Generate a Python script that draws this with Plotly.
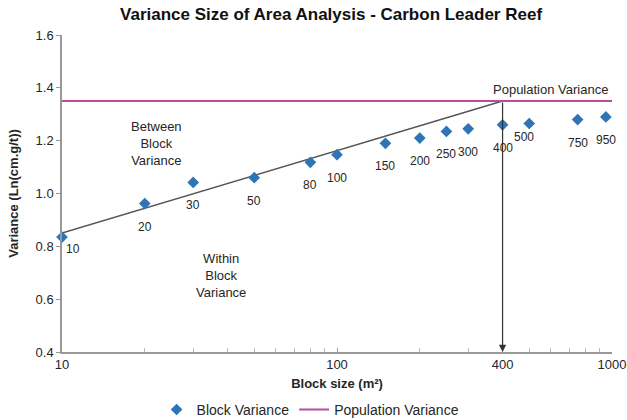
import numpy as np
import plotly.graph_objects as go

# block sizes (m2) and block variance
block_size = [10, 20, 30, 50, 80, 100, 150, 200, 250, 300, 400, 500, 750, 950]
block_variance = [0.835, 0.962, 1.042, 1.06, 1.118, 1.147, 1.19, 1.21, 1.235, 1.245,
                  1.26, 1.265, 1.28, 1.29]
point_labels = [str(v) for v in block_size]

population_variance = 1.35
trend_x = [10, 400]
trend_y = [0.85, 1.35]

x_tickvals = [10, 100, 400, 1000]
y_tickvals = [0.4, 0.6, 0.8, 1.0, 1.2, 1.4, 1.6]

BLUE = "#2e75b6"
PINK = "#b84d9e"
TEXT = "#262626"
FONT = "Liberation Sans, Arial, sans-serif"

fig = go.Figure()

fig.add_trace(
    go.Scatter(
        x=trend_x,
        y=trend_y,
        mode="lines",
        line=dict(color="#555555", width=1.5),
        showlegend=False,
        hoverinfo="skip",
    )
)

fig.add_trace(
    go.Scatter(
        x=block_size,
        y=block_variance,
        name="Block Variance",
        mode="markers",
        marker=dict(symbol="diamond", size=9, color=BLUE),
        cliponaxis=False,
    )
)

fig.add_trace(
    go.Scatter(
        x=[10, 1000],
        y=[population_variance, population_variance],
        name="Population Variance",
        mode="lines",
        line=dict(color=PINK, width=2),
    )
)

# data labels under each point
xshift = {10: 11, 500: -5}
yshift = {10: -12, 500: -13}
annotations = []
for xv, yv, lab in zip(block_size, block_variance, point_labels):
    annotations.append(
        dict(
            x=np.log10(xv),
            y=yv,
            text=lab,
            showarrow=False,
            xshift=xshift.get(xv, 0),
            yshift=yshift.get(xv, -23),
            font=dict(size=12, color=TEXT, family=FONT),
        )
    )

# arrow from population line down to the axis at 400
annotations.append(
    dict(
        x=np.log10(400),
        y=0.4,
        ax=np.log10(400),
        ay=population_variance,
        xref="x",
        yref="y",
        axref="x",
        ayref="y",
        text="",
        showarrow=True,
        arrowhead=2,
        arrowsize=1.2,
        arrowwidth=1.2,
        arrowcolor="#333333",
    )
)

annotations += [
    dict(x=3, y=1.395, text="Population Variance", showarrow=False, xshift=-2,
         xanchor="right", font=dict(size=13, color=TEXT, family=FONT)),
    dict(x=np.log10(22), y=1.19, text="Between<br>Block<br>Variance", showarrow=False,
         font=dict(size=13, color=TEXT, family=FONT)),
    dict(x=np.log10(38), y=0.69, text="Within<br>Block<br>Variance", showarrow=False,
         font=dict(size=13, color=TEXT, family=FONT)),
]

fig.update_layout(
    width=627,
    height=420,
    margin=dict(l=62, r=15, t=35, b=68),
    paper_bgcolor="white",
    plot_bgcolor="white",
    font=dict(family=FONT, size=13, color=TEXT),
    title=dict(
        text="<b>Variance Size of Area Analysis - Carbon Leader Reef</b>",
        x=0.528,
        xanchor="center",
        y=0.966,
        yanchor="middle",
        font=dict(size=17, color="#111111"),
    ),
    xaxis=dict(
        type="log",
        range=[1, 3],
        automargin=False,
        tickvals=x_tickvals,
        ticktext=[str(v) for v in x_tickvals],
        ticks="inside",
        ticklen=4,
        tickcolor="#999999",
        minor=dict(ticks="inside", ticklen=4, tickcolor="#bbbbbb",
                   tickvals=[20, 30, 40, 50, 60, 70, 80, 90, 200, 300, 500, 600, 700, 800, 900]),
        showline=True,
        linecolor="#999999",
        linewidth=1.5,
        showgrid=False,
        zeroline=False,
        title=dict(text="<b>Block size (m²)</b>", font=dict(size=13), standoff=8),
        tickfont=dict(size=13),
    ),
    yaxis=dict(
        range=[0.4, 1.6],
        automargin=False,
        tickvals=y_tickvals,
        tickformat=".1f",
        ticks="outside",
        ticklen=4,
        tickcolor="#999999",
        showline=True,
        linecolor="#999999",
        linewidth=1.5,
        showgrid=False,
        zeroline=False,
        title=dict(text="<b>Variance (Ln(cm.g/t))</b>", font=dict(size=13), standoff=14),
        tickfont=dict(size=13),
    ),
    legend=dict(
        orientation="h",
        x=0.452,
        xanchor="center",
        yref="container",
        y=0.024,
        yanchor="middle",
        font=dict(size=14),
        itemwidth=30,
    ),
    annotations=annotations,
)

# drop the default page margin so the figure sits at the window origin
fig.write_html(
    "out.html",
    config={"displayModeBar": False},
    post_script="document.body.style.margin='0';",
)
